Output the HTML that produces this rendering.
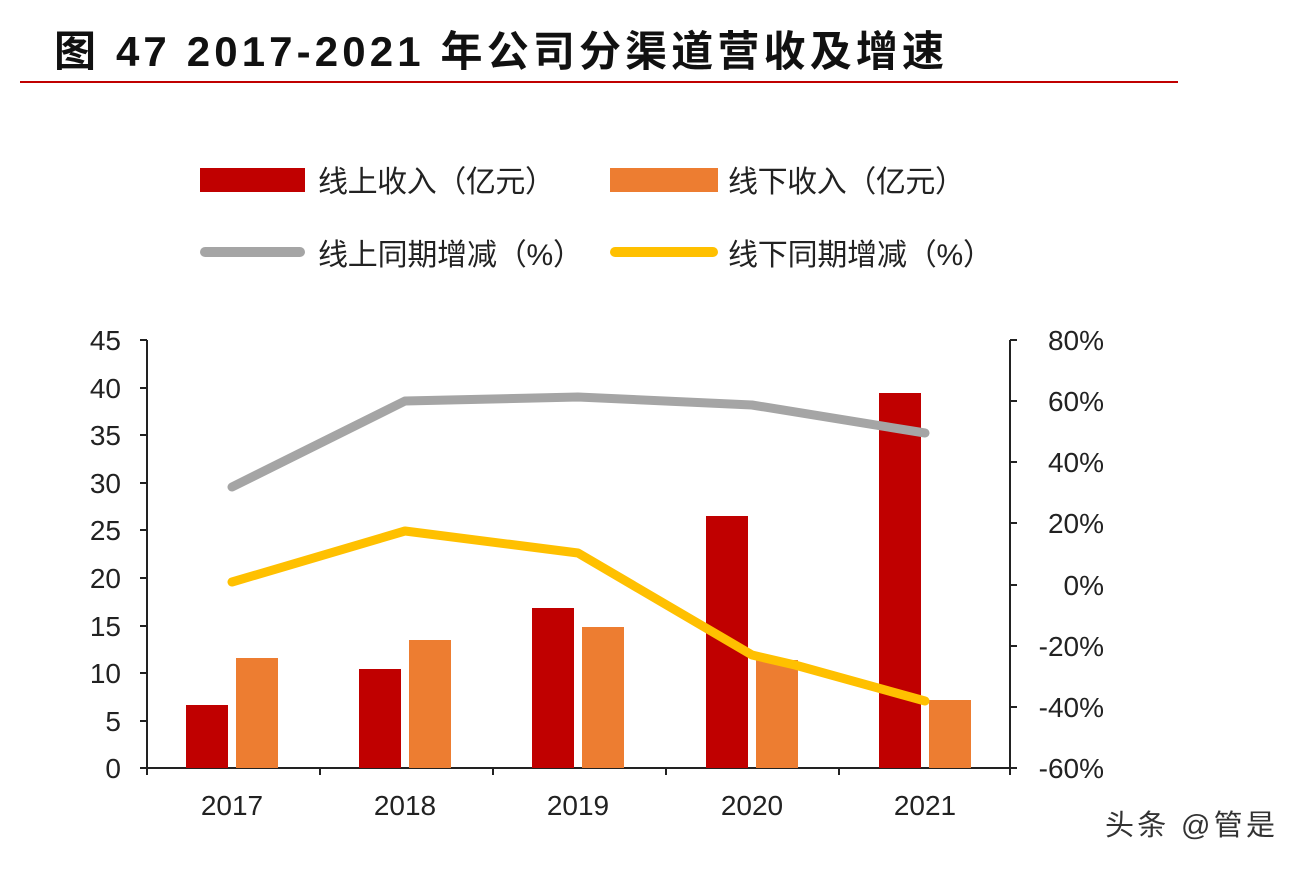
<!DOCTYPE html>
<html><head><meta charset="utf-8"><style>
body{margin:0;background:#fff;}
svg text{font-family:"Liberation Sans","Noto Sans CJK SC",sans-serif;}
</style></head><body>
<svg width="1300" height="864" viewBox="0 0 1300 864" xmlns="http://www.w3.org/2000/svg">
<rect width="1300" height="864" fill="#fff"/>
<text x="54" y="66" font-size="42" font-weight="bold" fill="#111" textLength="890" lengthAdjust="spacing">图 47 2017-2021 年公司分渠道营收及增速</text>
<line x1="20" y1="82" x2="1178" y2="82" stroke="#c00000" stroke-width="2"/>
<!-- legend -->
<rect x="200" y="168" width="105" height="24" fill="#c00000"/>
<text x="318" y="192" font-size="30" fill="#222" textLength="237" lengthAdjust="spacing">线上收入（亿元）</text>
<rect x="610" y="168" width="108" height="24" fill="#ed7d31"/>
<text x="728" y="192" font-size="30" fill="#222" textLength="237" lengthAdjust="spacing">线下收入（亿元）</text>
<line x1="205" y1="252" x2="300" y2="252" stroke="#a5a5a5" stroke-width="10" stroke-linecap="round"/>
<text x="318" y="265" font-size="30" fill="#222" textLength="265" lengthAdjust="spacing">线上同期增减（%）</text>
<line x1="615" y1="252" x2="713" y2="252" stroke="#ffc000" stroke-width="10" stroke-linecap="round"/>
<text x="728" y="265" font-size="30" fill="#222" textLength="265" lengthAdjust="spacing">线下同期增减（%）</text>
<!-- axes -->
<g stroke="#222" stroke-width="2">
<line x1="147" y1="340" x2="147" y2="768"/>
<line x1="1010" y1="340" x2="1010" y2="768"/>
<line x1="147" y1="768" x2="1010" y2="768"/>
<line x1="140" y1="340" x2="147" y2="340"/><line x1="140" y1="388" x2="147" y2="388"/>
<line x1="140" y1="435" x2="147" y2="435"/><line x1="140" y1="483" x2="147" y2="483"/>
<line x1="140" y1="530" x2="147" y2="530"/><line x1="140" y1="578" x2="147" y2="578"/>
<line x1="140" y1="626" x2="147" y2="626"/><line x1="140" y1="673" x2="147" y2="673"/>
<line x1="140" y1="721" x2="147" y2="721"/><line x1="140" y1="768" x2="147" y2="768"/>
<line x1="1010" y1="340" x2="1017" y2="340"/><line x1="1010" y1="401" x2="1017" y2="401"/>
<line x1="1010" y1="462" x2="1017" y2="462"/><line x1="1010" y1="523" x2="1017" y2="523"/>
<line x1="1010" y1="585" x2="1017" y2="585"/><line x1="1010" y1="646" x2="1017" y2="646"/>
<line x1="1010" y1="707" x2="1017" y2="707"/><line x1="1010" y1="768" x2="1017" y2="768"/>
<line x1="147" y1="768" x2="147" y2="775"/><line x1="320" y1="768" x2="320" y2="775"/>
<line x1="493" y1="768" x2="493" y2="775"/><line x1="666" y1="768" x2="666" y2="775"/>
<line x1="839" y1="768" x2="839" y2="775"/><line x1="1010" y1="768" x2="1010" y2="775"/>
</g>
<g font-size="28" fill="#222" text-anchor="end">
<text x="121" y="350">45</text><text x="121" y="398">40</text><text x="121" y="445">35</text>
<text x="121" y="493">30</text><text x="121" y="540">25</text><text x="121" y="588">20</text>
<text x="121" y="636">15</text><text x="121" y="683">10</text><text x="121" y="731">5</text>
<text x="121" y="778">0</text>
</g>
<g font-size="28" fill="#222" text-anchor="end">
<text x="1104" y="350">80%</text><text x="1104" y="411">60%</text><text x="1104" y="472">40%</text>
<text x="1104" y="533">20%</text><text x="1104" y="595">0%</text><text x="1104" y="656">-20%</text>
<text x="1104" y="717">-40%</text><text x="1104" y="778">-60%</text>
</g>
<g font-size="28" fill="#222" text-anchor="middle">
<text x="232" y="815">2017</text><text x="405" y="815">2018</text><text x="578" y="815">2019</text>
<text x="752" y="815">2020</text><text x="925" y="815">2021</text>
</g>
<!-- bars -->
<g fill="#c00000">
<rect x="186" y="705" width="42" height="63"/>
<rect x="359" y="669" width="42" height="99"/>
<rect x="532" y="608" width="42" height="160"/>
<rect x="706" y="516" width="42" height="252"/>
<rect x="879" y="393" width="42" height="375"/>
</g>
<g fill="#ed7d31">
<rect x="236" y="658" width="42" height="110"/>
<rect x="409" y="640" width="42" height="128"/>
<rect x="582" y="627" width="42" height="141"/>
<rect x="756" y="660" width="42" height="108"/>
<rect x="929" y="700" width="42" height="68"/>
</g>
<polyline points="232,487 405,401 578,397 752,405 925,433" fill="none" stroke="#a5a5a5" stroke-width="9" stroke-linecap="round" stroke-linejoin="round"/>
<polyline points="232,582 405,531 578,553 752,655 795,665 925,701" fill="none" stroke="#ffc000" stroke-width="9" stroke-linecap="round" stroke-linejoin="round"/>
<text x="1105" y="835" font-size="29" fill="#333" textLength="170" lengthAdjust="spacing">头条 @管是</text>
</svg>
</body></html>
